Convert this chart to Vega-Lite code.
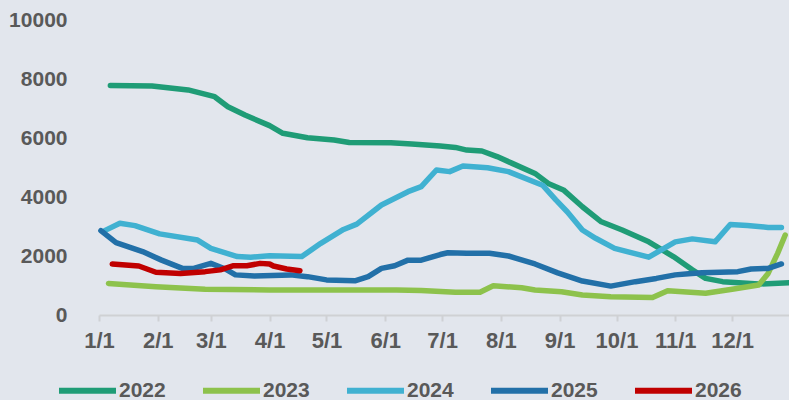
{
  "$schema": "https://vega.github.io/schema/vega-lite/v6.json",
  "width": 690,
  "height": 295,
  "autosize": {"type": "none"},
  "padding": {"left": 99, "top": 20, "right": 0, "bottom": 85},
  "background": "#e2e6ed",
  "config": {
    "view": {"stroke": null},
    "font": "Liberation Sans"
  },
  "data": {
    "values": [
      {"year": "2022", "date": "2001-01-07", "v": 7780},
      {"year": "2022", "date": "2001-01-29", "v": 7760},
      {"year": "2022", "date": "2001-02-17", "v": 7630},
      {"year": "2022", "date": "2001-03-03", "v": 7400},
      {"year": "2022", "date": "2001-03-10", "v": 7060},
      {"year": "2022", "date": "2001-03-19", "v": 6780},
      {"year": "2022", "date": "2001-04-01", "v": 6420},
      {"year": "2022", "date": "2001-04-08", "v": 6160},
      {"year": "2022", "date": "2001-04-21", "v": 6010},
      {"year": "2022", "date": "2001-05-05", "v": 5930},
      {"year": "2022", "date": "2001-05-13", "v": 5850},
      {"year": "2022", "date": "2001-06-04", "v": 5840},
      {"year": "2022", "date": "2001-06-15", "v": 5800},
      {"year": "2022", "date": "2001-06-30", "v": 5730},
      {"year": "2022", "date": "2001-07-08", "v": 5680},
      {"year": "2022", "date": "2001-07-14", "v": 5590},
      {"year": "2022", "date": "2001-07-22", "v": 5560},
      {"year": "2022", "date": "2001-07-30", "v": 5370},
      {"year": "2022", "date": "2001-08-07", "v": 5140},
      {"year": "2022", "date": "2001-08-19", "v": 4800},
      {"year": "2022", "date": "2001-08-26", "v": 4460},
      {"year": "2022", "date": "2001-09-03", "v": 4240},
      {"year": "2022", "date": "2001-09-13", "v": 3670},
      {"year": "2022", "date": "2001-09-23", "v": 3160},
      {"year": "2022", "date": "2001-10-04", "v": 2880},
      {"year": "2022", "date": "2001-10-18", "v": 2480},
      {"year": "2022", "date": "2001-10-31", "v": 1980},
      {"year": "2022", "date": "2001-11-10", "v": 1530},
      {"year": "2022", "date": "2001-11-17", "v": 1240},
      {"year": "2022", "date": "2001-11-26", "v": 1130},
      {"year": "2022", "date": "2001-12-15", "v": 1050},
      {"year": "2022", "date": "2001-12-31", "v": 1095},

      {"year": "2023", "date": "2001-01-06", "v": 1070},
      {"year": "2023", "date": "2001-01-31", "v": 960},
      {"year": "2023", "date": "2001-02-26", "v": 870},
      {"year": "2023", "date": "2001-04-01", "v": 850},
      {"year": "2023", "date": "2001-06-07", "v": 850},
      {"year": "2023", "date": "2001-06-20", "v": 830},
      {"year": "2023", "date": "2001-07-08", "v": 770},
      {"year": "2023", "date": "2001-07-21", "v": 770},
      {"year": "2023", "date": "2001-07-28", "v": 990},
      {"year": "2023", "date": "2001-08-12", "v": 925},
      {"year": "2023", "date": "2001-08-19", "v": 850},
      {"year": "2023", "date": "2001-09-02", "v": 790},
      {"year": "2023", "date": "2001-09-13", "v": 680},
      {"year": "2023", "date": "2001-09-28", "v": 620},
      {"year": "2023", "date": "2001-10-20", "v": 590},
      {"year": "2023", "date": "2001-10-28", "v": 825},
      {"year": "2023", "date": "2001-11-17", "v": 735},
      {"year": "2023", "date": "2001-12-01", "v": 870},
      {"year": "2023", "date": "2001-12-15", "v": 1015},
      {"year": "2023", "date": "2001-12-20", "v": 1410},
      {"year": "2023", "date": "2001-12-25", "v": 2090},
      {"year": "2023", "date": "2001-12-29", "v": 2710},

      {"year": "2024", "date": "2001-01-04", "v": 2860},
      {"year": "2024", "date": "2001-01-12", "v": 3110},
      {"year": "2024", "date": "2001-01-20", "v": 3030},
      {"year": "2024", "date": "2001-02-02", "v": 2750},
      {"year": "2024", "date": "2001-02-22", "v": 2540},
      {"year": "2024", "date": "2001-03-01", "v": 2260},
      {"year": "2024", "date": "2001-03-15", "v": 1980},
      {"year": "2024", "date": "2001-03-22", "v": 1960},
      {"year": "2024", "date": "2001-04-01", "v": 2010},
      {"year": "2024", "date": "2001-04-18", "v": 1980},
      {"year": "2024", "date": "2001-04-28", "v": 2430},
      {"year": "2024", "date": "2001-05-10", "v": 2900},
      {"year": "2024", "date": "2001-05-17", "v": 3080},
      {"year": "2024", "date": "2001-05-30", "v": 3730},
      {"year": "2024", "date": "2001-06-13", "v": 4180},
      {"year": "2024", "date": "2001-06-20", "v": 4350},
      {"year": "2024", "date": "2001-06-28", "v": 4915},
      {"year": "2024", "date": "2001-07-05", "v": 4860},
      {"year": "2024", "date": "2001-07-12", "v": 5050},
      {"year": "2024", "date": "2001-07-25", "v": 4990},
      {"year": "2024", "date": "2001-08-05", "v": 4860},
      {"year": "2024", "date": "2001-08-23", "v": 4400},
      {"year": "2024", "date": "2001-08-30", "v": 3900},
      {"year": "2024", "date": "2001-09-05", "v": 3500},
      {"year": "2024", "date": "2001-09-13", "v": 2880},
      {"year": "2024", "date": "2001-09-20", "v": 2600},
      {"year": "2024", "date": "2001-09-30", "v": 2260},
      {"year": "2024", "date": "2001-10-18", "v": 1960},
      {"year": "2024", "date": "2001-11-01", "v": 2480},
      {"year": "2024", "date": "2001-11-10", "v": 2580},
      {"year": "2024", "date": "2001-11-22", "v": 2480},
      {"year": "2024", "date": "2001-11-30", "v": 3070},
      {"year": "2024", "date": "2001-12-09", "v": 3030},
      {"year": "2024", "date": "2001-12-20", "v": 2970},
      {"year": "2024", "date": "2001-12-27", "v": 2970},

      {"year": "2025", "date": "2001-01-02", "v": 2860},
      {"year": "2025", "date": "2001-01-10", "v": 2450},
      {"year": "2025", "date": "2001-01-24", "v": 2150},
      {"year": "2025", "date": "2001-02-03", "v": 1860},
      {"year": "2025", "date": "2001-02-14", "v": 1580},
      {"year": "2025", "date": "2001-02-20", "v": 1580},
      {"year": "2025", "date": "2001-03-01", "v": 1750},
      {"year": "2025", "date": "2001-03-09", "v": 1550},
      {"year": "2025", "date": "2001-03-14", "v": 1360},
      {"year": "2025", "date": "2001-03-24", "v": 1320},
      {"year": "2025", "date": "2001-04-12", "v": 1360},
      {"year": "2025", "date": "2001-04-21", "v": 1300},
      {"year": "2025", "date": "2001-05-01", "v": 1190},
      {"year": "2025", "date": "2001-05-16", "v": 1160},
      {"year": "2025", "date": "2001-05-23", "v": 1300},
      {"year": "2025", "date": "2001-05-30", "v": 1580},
      {"year": "2025", "date": "2001-06-06", "v": 1670},
      {"year": "2025", "date": "2001-06-13", "v": 1860},
      {"year": "2025", "date": "2001-06-20", "v": 1860},
      {"year": "2025", "date": "2001-06-30", "v": 2050},
      {"year": "2025", "date": "2001-07-04", "v": 2110},
      {"year": "2025", "date": "2001-07-14", "v": 2090},
      {"year": "2025", "date": "2001-07-26", "v": 2090},
      {"year": "2025", "date": "2001-08-05", "v": 2000},
      {"year": "2025", "date": "2001-08-19", "v": 1730},
      {"year": "2025", "date": "2001-08-31", "v": 1430},
      {"year": "2025", "date": "2001-09-13", "v": 1150},
      {"year": "2025", "date": "2001-09-28", "v": 980},
      {"year": "2025", "date": "2001-10-11", "v": 1130},
      {"year": "2025", "date": "2001-10-22", "v": 1240},
      {"year": "2025", "date": "2001-11-01", "v": 1360},
      {"year": "2025", "date": "2001-11-08", "v": 1400},
      {"year": "2025", "date": "2001-11-15", "v": 1430},
      {"year": "2025", "date": "2001-12-04", "v": 1470},
      {"year": "2025", "date": "2001-12-11", "v": 1560},
      {"year": "2025", "date": "2001-12-20", "v": 1580},
      {"year": "2025", "date": "2001-12-27", "v": 1730},

      {"year": "2026", "date": "2001-01-08", "v": 1730},
      {"year": "2026", "date": "2001-01-22", "v": 1660},
      {"year": "2026", "date": "2001-01-31", "v": 1450},
      {"year": "2026", "date": "2001-02-13", "v": 1410},
      {"year": "2026", "date": "2001-02-26", "v": 1470},
      {"year": "2026", "date": "2001-03-06", "v": 1530},
      {"year": "2026", "date": "2001-03-13", "v": 1670},
      {"year": "2026", "date": "2001-03-20", "v": 1670},
      {"year": "2026", "date": "2001-03-27", "v": 1750},
      {"year": "2026", "date": "2001-04-01", "v": 1730},
      {"year": "2026", "date": "2001-04-03", "v": 1660},
      {"year": "2026", "date": "2001-04-10", "v": 1560},
      {"year": "2026", "date": "2001-04-17", "v": 1500}
    ]
  },
  "mark": {"type": "line", "strokeWidth": 5.5, "strokeCap": "round", "strokeJoin": "round"},
  "encoding": {
    "x": {
      "field": "date",
      "type": "temporal",
      "scale": {
        "type": "utc",
        "domain": [
          {"year": 2001, "month": 1, "date": 1, "utc": true},
          {"year": 2001, "month": 12, "date": 31, "utc": true}
        ]
      },
      "axis": {
        "title": null,
        "grid": false,
        "values": [
          {"year": 2001, "month": 1, "date": 1, "utc": true},
          {"year": 2001, "month": 2, "date": 1, "utc": true},
          {"year": 2001, "month": 3, "date": 1, "utc": true},
          {"year": 2001, "month": 4, "date": 1, "utc": true},
          {"year": 2001, "month": 5, "date": 1, "utc": true},
          {"year": 2001, "month": 6, "date": 1, "utc": true},
          {"year": 2001, "month": 7, "date": 1, "utc": true},
          {"year": 2001, "month": 8, "date": 1, "utc": true},
          {"year": 2001, "month": 9, "date": 1, "utc": true},
          {"year": 2001, "month": 10, "date": 1, "utc": true},
          {"year": 2001, "month": 11, "date": 1, "utc": true},
          {"year": 2001, "month": 12, "date": 1, "utc": true}
        ],
        "labelExpr": "utcFormat(datum.value, '%-m/%-d')",
        "labelFontSize": 22,
        "labelFontWeight": "bold",
        "labelColor": "#595959",
        "labelPadding": 9,
        "labelFlush": false,
        "labelOverlap": false,
        "domainColor": "#cfd1d4",
        "domainWidth": 2,
        "tickColor": "#cfd1d4",
        "tickWidth": 2,
        "tickSize": 6
      }
    },
    "y": {
      "field": "v",
      "type": "quantitative",
      "scale": {"domain": [0, 10000], "nice": false},
      "axis": {
        "title": null,
        "grid": false,
        "domain": false,
        "ticks": false,
        "values": [0, 2000, 4000, 6000, 8000, 10000],
        "format": "d",
        "labelFontSize": 21,
        "labelFontWeight": "bold",
        "labelColor": "#595959",
        "labelPadding": 32
      }
    },
    "color": {
      "field": "year",
      "type": "nominal",
      "scale": {
        "domain": ["2022", "2023", "2024", "2025", "2026"],
        "range": ["#1f9c76", "#8dc24c", "#40b1d1", "#2270a8", "#c00000"]
      },
      "legend": {
        "title": null,
        "orient": "none",
        "legendX": -43,
        "legendY": 339,
        "direction": "horizontal",
        "columns": 5,
        "symbolType": "stroke",
        "symbolSize": 3249,
        "symbolStrokeWidth": 6,
        "labelFontSize": 21,
        "labelFontWeight": "bold",
        "labelColor": "#595959",
        "labelOffset": 0,
        "columnPadding": 25
      }
    }
  }
}
